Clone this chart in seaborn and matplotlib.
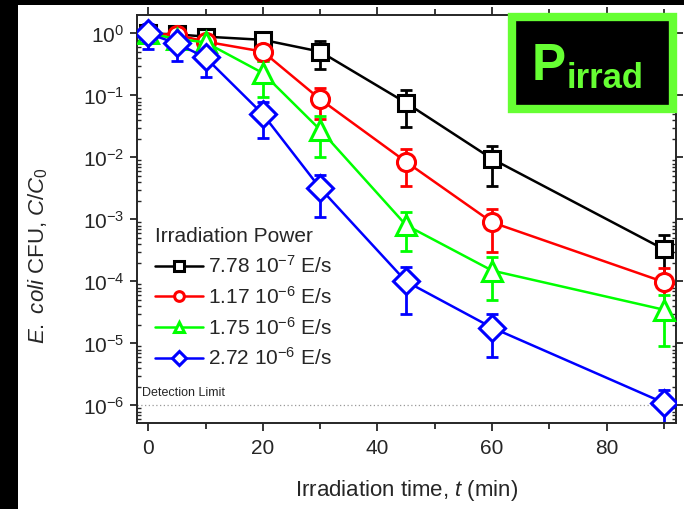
import numpy as np
import pandas as pd
import matplotlib
matplotlib.use("Agg")
import matplotlib.pyplot as plt
import matplotlib.ticker as mticker
from matplotlib.patches import Rectangle
import seaborn as sns

# tempi di irraggiamento (min)
tempo = [0, 5, 10, 20, 30, 45, 60, 90]

# C/C0 per ogni potenza
p1 = [1.0, 0.97, 0.89, 0.79, 0.51, 0.076, 0.0095, 3.3e-4]
p2 = [1.0, 0.95, 0.74, 0.51, 0.087, 0.0085, 9.0e-4, 9.8e-5]
p3 = [1.0, 0.82, 0.72, 0.23, 0.028, 8.1e-4, 1.5e-4, 3.5e-5]
p4 = [1.0, 0.69, 0.41, 0.05, 0.0032, 1.0e-4, 1.8e-5, 1.1e-6]

# deviazioni standard
e1 = [0.2, 0.1, 0.1, 0.2, 0.24, 0.045, 0.006, 2.3e-4]
e2 = [0.15, 0.1, 0.1, 0.15, 0.045, 0.005, 6.0e-4, 6.5e-5]
e3 = [0.2, 0.1, 0.1, 0.135, 0.018, 5.0e-4, 1.0e-4, 2.6e-5]
e4 = [0.44, 0.33, 0.21, 0.029, 0.0021, 7.0e-5, 1.2e-5, 0.7e-6]

etichette = ["7.78 10$^{-7}$ E/s", "1.17 10$^{-6}$ E/s",
             "1.75 10$^{-6}$ E/s", "2.72 10$^{-6}$ E/s"]
colori = ["#000000", "#ff0000", "#00ff00", "#0000ff"]
marker = ["s", "o", "^", "D"]
msize = [12, 13, 15, 13]

df = pd.DataFrame({
    "t": tempo * 4,
    "c": p1 + p2 + p3 + p4,
    "err": e1 + e2 + e3 + e4,
    "potenza": sum([[l] * len(tempo) for l in etichette], []),
})

sns.set_style("ticks")
plt.rcParams["font.family"] = ["Liberation Sans", "DejaVu Sans"]
plt.rcParams["mathtext.fontset"] = "custom"
plt.rcParams["mathtext.rm"] = "Liberation Sans"
plt.rcParams["mathtext.it"] = "Liberation Sans:italic"

fig = plt.figure(figsize=(6.84, 5.09), dpi=100)
ax = fig.add_axes([0.1999, 0.1696, 0.7885, 0.8009])

sns.lineplot(data=df, x="t", y="c", hue="potenza", style="potenza",
             palette=colori, markers=marker, dashes=False, linewidth=1.8,
             ax=ax, legend=False, zorder=3)
for i, line in enumerate(ax.lines[:4]):
    line.set_markersize(msize[i])
    line.set_markerfacecolor("white")
    line.set_markeredgecolor(colori[i])
    line.set_markeredgewidth(2.2)

# barre di errore
for i, lab in enumerate(etichette):
    d = df[df["potenza"] == lab]
    ax.errorbar(d["t"], d["c"], yerr=d["err"], fmt="none", ecolor=colori[i],
                elinewidth=2, capsize=4, capthick=2, zorder=2)

ax.set_yscale("log")
ax.set_xlim(-2, 92.1)
ax.set_ylim(10 ** -6.277, 10 ** 0.298)

# limite di rilevabilita
ax.axhline(1e-6, color="#999999", lw=0.9, ls=(0, (1, 2)), zorder=1)
ax.text(-1, 1.25e-6, "Detection Limit", fontsize=9, va="bottom", ha="left")

ax.xaxis.set_major_locator(mticker.MultipleLocator(20))
ax.xaxis.set_minor_locator(mticker.MultipleLocator(10))
ax.yaxis.set_major_locator(mticker.LogLocator(base=10, numticks=10))
ax.yaxis.set_minor_locator(mticker.LogLocator(base=10, subs=np.arange(2, 10), numticks=10))
ax.yaxis.set_minor_formatter(mticker.NullFormatter())

ax.tick_params(axis="x", which="major", direction="out", length=6, width=1.3,
               labelsize=15, pad=6, top=True)
ax.tick_params(axis="x", which="minor", direction="out", length=4, width=1.3, top=True)
ax.tick_params(axis="y", which="major", direction="out", length=5, width=1.3,
               labelsize=15, pad=4, right=True)
ax.tick_params(axis="y", which="minor", direction="in", length=3, width=1, right=True)
for s in ax.spines.values():
    s.set_linewidth(1.4)
    s.set_visible(True)

ax.set_xlabel("Irradiation time, $\\it{t}$ (min)", fontsize=16, labelpad=14)
ax.set_ylabel("$\\it{E.\\ coli}$ CFU, $\\it{C/C}_0$", fontsize=16)
ax.yaxis.set_label_coords(-0.16, 0.41)

# legenda
handles = []
for i, lab in enumerate(etichette):
    h, = ax.plot([], [], color=colori[i], marker=marker[i], ms=7, mfc="white",
                 mew=2.2, lw=1.8, label=lab)
    handles.append(h)
leg = ax.legend(handles=handles, title="Irradiation Power", loc="upper left",
                bbox_to_anchor=(0.0, 0.525), frameon=False, fontsize=15,
                title_fontsize=15, handlelength=2.3, handletextpad=0.2,
                labelspacing=0.42, alignment="left")

# riquadro P_irrad
box = Rectangle((0.696, 0.7695), 0.2985, 0.2255, transform=ax.transAxes,
                facecolor="black", edgecolor="#66ff33", lw=6, clip_on=False, zorder=5)
ax.add_patch(box)
ax.text(0.733, 0.840, "P", transform=ax.transAxes, color="#66ff33", fontsize=37,
        fontweight="bold", ha="left", va="baseline", zorder=6)
ax.text(0.798, 0.820, "irrad", transform=ax.transAxes, color="#66ff33", fontsize=25,
        fontweight="bold", ha="left", va="baseline", zorder=6)

# bordi neri dell'immagine
fig.patches.append(Rectangle((0, 0), 0.0263, 1, transform=fig.transFigure,
                             facecolor="black", edgecolor="none", zorder=0))
fig.patches.append(Rectangle((0, 0.9902), 1, 0.0098, transform=fig.transFigure,
                             facecolor="black", edgecolor="none", zorder=0))

fig.savefig("out.png", dpi=100)
